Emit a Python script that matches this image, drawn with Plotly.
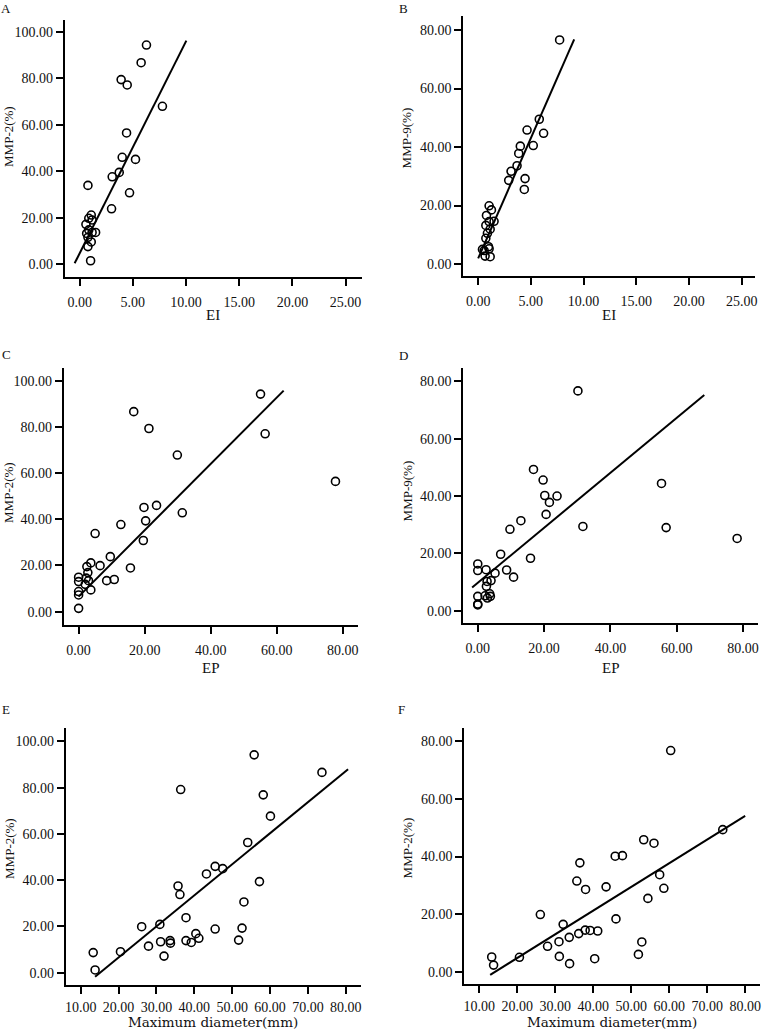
import plotly.graph_objects as go

W, H = 765, 1029

# ---------------- data ----------------
# Panel A: EI vs MMP-2(%)
a_x = [6.28, 5.78, 3.90, 4.47, 7.78, 4.41, 4.00, 5.25, 3.06, 3.72, 0.78, 4.69, 3.00,
       1.09, 0.86, 1.17, 0.59, 1.50, 0.86, 0.66, 1.17, 0.78, 1.09, 0.78, 1.03]
a_y = [94.4, 86.8, 79.5, 77.2, 68.0, 56.5, 46.0, 45.1, 37.6, 39.5, 33.9, 30.7, 23.8,
       21.1, 19.7, 19.0, 17.1, 13.6, 14.7, 13.2, 13.6, 11.5, 9.5, 7.5, 1.4]
a_fit_x = [-0.47, 10.03]
a_fit_y = [0.3, 96.3]

# Panel B: EI vs MMP-9(%)
b_x = [7.73, 5.80, 4.64, 6.21, 4.00, 5.23, 3.85, 3.69, 3.12, 2.90, 4.45, 4.38, 1.04,
       1.26, 0.79, 1.51, 1.04, 0.73, 1.14, 0.88, 0.73, 0.98, 1.04, 0.57, 0.66, 1.14, 0.41]
b_y = [76.6, 49.5, 45.8, 44.7, 40.3, 40.5, 37.8, 33.6, 31.7, 28.6, 29.2, 25.5, 19.9,
       18.5, 16.6, 14.6, 14.5, 13.2, 11.9, 10.5, 8.8, 5.9, 5.2, 4.6, 2.7, 2.5, 5.0]
b_fit_x = [0.0, 9.11]
b_fit_y = [1.9, 76.8]

# Panel C: EP vs MMP-2(%)
c_x = [55.1, 16.7, 21.3, 56.5, 29.9, 77.8, 23.6, 19.8, 31.4, 20.3, 12.8, 5.0, 19.6,
       9.6, 3.7, 6.5, 2.5, 15.7, 2.8, 0.0, 2.3, 10.8, 8.5, 0.0, 3.0, 2.0, 3.7, 0.0, 0.0, 0.0]
c_y = [94.2, 86.6, 79.3, 77.0, 67.8, 56.4, 46.0, 45.1, 42.8, 39.3, 37.7, 33.8, 30.8,
       23.8, 21.1, 19.9, 19.5, 18.9, 16.9, 14.9, 14.5, 13.9, 13.4, 13.0, 13.4, 11.8, 9.4, 8.7, 7.2, 1.4]
c_fit_x = [0.0, 62.1]
c_fit_y = [6.5, 95.7]

# Panel D: EP vs MMP-9(%)
d_x = [30.2, 16.8, 19.7, 55.4, 20.2, 23.9, 21.6, 20.6, 13.0, 9.7, 31.7, 56.8, 78.2,
       6.9, 15.9, 0.0, 0.0, 2.5, 8.7, 5.2, 10.8, 4.0, 2.8, 2.6, 3.6, 2.2, 0.0, 3.8, 2.9, 0.0, 0.0]
d_y = [76.7, 49.3, 45.6, 44.4, 40.2, 40.0, 37.8, 33.6, 31.4, 28.4, 29.4, 29.0, 25.2,
       19.7, 18.3, 16.3, 14.0, 14.3, 14.2, 13.1, 11.7, 10.5, 10.2, 8.5, 5.9, 5.2, 5.0, 5.0, 4.4, 2.3, 2.0]
d_fit_x = [-1.7, 68.3]
d_fit_y = [8.1, 75.3]

# Panel E: Maximum diameter vs MMP-2(%)
e_x = [55.8, 73.7, 36.4, 58.2, 60.1, 54.1, 45.5, 47.5, 43.2, 35.7, 57.2, 36.2, 53.1,
       37.8, 26.1, 30.9, 45.5, 52.6, 40.4, 20.5, 13.3, 27.9, 31.1, 33.6, 33.7, 37.8,
       39.2, 41.2, 32.0, 51.7, 13.8]
e_y = [94.2, 86.6, 79.2, 76.9, 67.7, 56.3, 46.0, 45.0, 42.7, 37.5, 39.4, 33.8, 30.6,
       23.8, 19.9, 20.9, 18.9, 19.3, 16.9, 9.1, 8.7, 11.5, 13.4, 13.9, 12.8, 13.9,
       13.1, 14.9, 7.2, 14.1, 1.2]
e_fit_x = [13.8, 80.6]
e_fit_y = [-1.7, 88.0]

# Panel F: Maximum diameter vs MMP-2(%) (second marker)
f_x = [60.4, 74.1, 53.3, 56.0, 45.8, 47.7, 36.5, 57.5, 35.7, 38.0, 43.4, 58.6, 54.4,
       26.1, 46.0, 32.1, 37.9, 39.2, 41.2, 36.2, 33.7, 31.0, 52.8, 28.0, 13.3, 20.6,
       31.1, 51.9, 40.4, 33.8, 13.8]
f_y = [76.7, 49.3, 45.8, 44.6, 40.1, 40.3, 37.8, 33.7, 31.5, 28.6, 29.5, 29.0, 25.5,
       19.9, 18.4, 16.5, 14.5, 14.4, 14.2, 13.3, 12.0, 10.5, 10.4, 8.9, 5.2, 5.1,
       5.4, 6.1, 4.6, 2.9, 2.4]
f_fit_x = [12.9, 80.0]
f_fit_y = [-1.0, 54.1]

panel_letters = ["A", "B", "C", "D", "E", "F"]
x_titles = ["EI", "EI", "EP", "EP", "Maximum diameter(mm)", "Maximum diameter(mm)"]
y_titles = ["MMP-2(%)", "MMP-9(%)", "MMP-2(%)", "MMP-9(%)", "MMP-2(%)", "MMP-2(%)"]
x_ticks = [[0, 5, 10, 15, 20, 25], [0, 5, 10, 15, 20, 25],
           [0, 20, 40, 60, 80], [0, 20, 40, 60, 80],
           [10, 20, 30, 40, 50, 60, 70, 80], [10, 20, 30, 40, 50, 60, 70, 80]]
y_ticks = [[0, 20, 40, 60, 80, 100], [0, 20, 40, 60, 80],
           [0, 20, 40, 60, 80, 100], [0, 20, 40, 60, 80],
           [0, 20, 40, 60, 80, 100], [0, 20, 40, 60, 80]]

scatter_x = [a_x, b_x, c_x, d_x, e_x, f_x]
scatter_y = [a_y, b_y, c_y, d_y, e_y, f_y]
fit_x = [a_fit_x, b_fit_x, c_fit_x, d_fit_x, e_fit_x, f_fit_x]
fit_y = [a_fit_y, b_fit_y, c_fit_y, d_fit_y, e_fit_y, f_fit_y]

# ---------------- layout (pixel geometry) ----------------
# plot boxes: left, right, top, bottom (px)
boxes = [(64, 362, 20, 277), (464, 757, 16, 276),
         (63, 358, 368, 625), (464, 760, 368, 623),
         (65, 361, 728, 985), (465, 762, 728, 984)]
x_ranges = [[-1.4, 26.5], [-1.42, 26.27], [-4.5, 84.5], [-4.4, 84.5], [6.05, 83.9], [6.06, 83.9]]
y_ranges = [[-5.6, 105.2], [-4.1, 84.8], [-5.8, 105.5], [-4.3, 84.7], [-5.3, 105.8], [-4.15, 84.5]]
letter_pos = [(5, 8), (404, 8), (6, 354), (404, 355), (5, 709), (402, 709)]
xtitle_y = [315, 315, 668, 668, 1022, 1022]
ytitle_pos = [(7, 136), (408, 138), (8, 492), (408, 491), (8, 848), (408, 848)]
label_standoff = [4, 4, 4, 4, 1, 1]

serif = "Liberation Serif"
fig = go.Figure()
layout = dict(width=W, height=H, margin=dict(l=0, r=0, t=0, b=0),
              paper_bgcolor="white", plot_bgcolor="white", showlegend=False)
annotations = []


def px(x):
    return x / W


def py(y):
    return 1 - y / H


for i in range(6):
    sfx = "" if i == 0 else str(i + 1)
    xa, ya = "x" + sfx, "y" + sfx
    l, r, t, b = boxes[i]
    axis_common = dict(showline=True, linecolor="black", linewidth=2, mirror=False,
                       ticks="outside", ticklen=7, tickwidth=1.5, tickcolor="black",
                       showgrid=False, zeroline=False, tickformat=".2f",
                       tickfont=dict(family=serif, size=14, color="#111"))
    layout["xaxis" + sfx] = dict(axis_common, domain=[px(l), px(r)], range=x_ranges[i],
                                 tickvals=x_ticks[i], anchor=ya,
                                 ticklabelstandoff=label_standoff[i])
    layout["yaxis" + sfx] = dict(axis_common, domain=[py(b), py(t)], range=y_ranges[i],
                                 tickvals=y_ticks[i], anchor=xa)
    fig.add_trace(go.Scatter(x=scatter_x[i], y=scatter_y[i], mode="markers", xaxis=xa, yaxis=ya,
                             marker=dict(symbol="circle-open", size=8, color="black",
                                         line=dict(width=1.6, color="black"))))
    fig.add_trace(go.Scatter(x=fit_x[i], y=fit_y[i], mode="lines", xaxis=xa, yaxis=ya,
                             line=dict(color="black", width=2)))
    lx, ly = letter_pos[i]
    annotations.append(dict(text=panel_letters[i], x=px(lx), y=py(ly), xref="paper", yref="paper",
                            showarrow=False, xanchor="center", yanchor="middle",
                            font=dict(family=serif, size=13, color="#111")))
    if i >= 4:
        tfont = dict(family="DejaVu Serif", size=13.5, color="#111")
    else:
        tfont = dict(family=serif, size=15, color="#111")
    annotations.append(dict(text=x_titles[i], x=px((l + r) / 2), y=py(xtitle_y[i]),
                            xref="paper", yref="paper", showarrow=False, borderpad=0,
                            xanchor="center", yanchor="middle", font=tfont))
    tx, ty = ytitle_pos[i]
    annotations.append(dict(text=y_titles[i], x=px(tx), y=py(ty), xref="paper", yref="paper",
                            showarrow=False, xanchor="center", yanchor="middle", textangle=-90,
                            font=dict(family=serif, size=13, color="#111")))

layout["annotations"] = annotations
fig.update_layout(**layout)
fig.write_html(
    "out.html",
    config={"displayModeBar": False},
    post_script="document.body.style.margin='0';document.body.style.padding='0';"
                "document.documentElement.style.overflow='hidden';",
)
